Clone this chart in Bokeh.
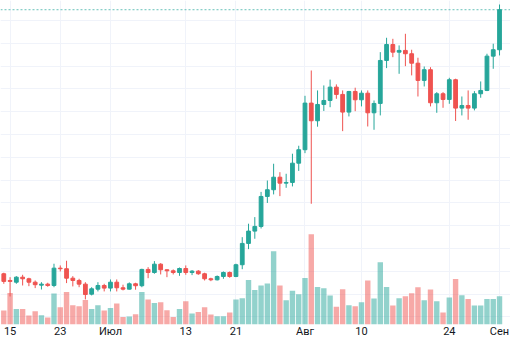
import pandas as pd
from bokeh.plotting import figure
from bokeh.models import ColumnDataSource, Range1d, FixedTicker, Span, Grid
from bokeh.embed import file_html
from bokeh.resources import INLINE

# ETH/USD daily candles, 14 Jun – 1 Sep 2020
dates = pd.date_range("2020-06-14", "2020-09-01", freq="D")

open_ = [237.8, 231.9, 230.4, 234.8, 233.4, 230.4, 227.8, 228.7, 227.5, 242.7,
         242.2, 233.9, 231.9, 228.7, 219.9, 224.3, 227.5, 225.2, 230.4, 225.5,
         224.3, 229.0, 227.3, 241.6, 238.9, 246.2, 241.3, 240.4, 238.9, 242.4,
         238.9, 240.1, 237.8, 233.4, 232.5, 235.4, 238.9, 235.4, 245.7, 264.4,
         275.2, 279.3, 305.6, 311.5, 322.5, 317.3, 317.9, 334.8, 346.6, 387.5,
         372.0, 386.3, 389.8, 401.5, 395.1, 379.6, 397.7, 390.4, 396.2, 379.0,
         387.2, 424.9, 438.9, 432.2, 433.7, 430.8, 422.5, 407.4, 416.8, 387.8,
         395.7, 390.7, 408.0, 383.1, 385.4, 383.1, 395.7, 398.6, 428.7, 434.3]
high = [238.7, 234.8, 235.7, 236.9, 234.3, 231.9, 230.4, 229.9, 246.6, 245.1,
        249.2, 235.7, 233.4, 230.4, 226.0, 230.4, 229.0, 232.8, 232.8, 228.2,
        230.2, 229.9, 242.2, 243.6, 248.9, 247.1, 241.6, 241.6, 243.3, 245.1,
        241.0, 241.0, 238.7, 234.3, 236.3, 239.8, 239.8, 246.6, 269.9, 281.7,
        287.5, 309.6, 319.6, 334.3, 326.9, 325.5, 343.1, 350.1, 393.9, 416.1,
        398.6, 403.0, 408.1, 403.9, 398.6, 398.2, 401.0, 398.6, 398.6, 389.8,
        432.2, 444.8, 443.9, 438.1, 448.3, 434.3, 427.3, 419.6, 419.0, 397.1,
        397.1, 409.7, 408.9, 393.3, 398.6, 398.0, 406.5, 430.8, 439.6, 474.0]
low = [229.0, 217.9, 229.0, 227.5, 226.9, 225.2, 224.0, 226.4, 226.0, 239.8,
       229.6, 226.7, 226.0, 215.3, 218.8, 222.3, 222.3, 222.3, 222.3, 223.2,
       224.0, 223.8, 226.0, 233.9, 237.8, 237.2, 234.8, 237.2, 236.0, 236.9,
       236.6, 236.9, 231.9, 231.3, 231.9, 233.4, 234.3, 234.8, 241.8, 259.4,
       268.5, 277.5, 299.9, 307.4, 305.9, 313.2, 314.4, 328.0, 343.6, 299.2,
       366.8, 380.6, 383.9, 391.3, 362.9, 375.8, 380.4, 384.6, 367.0, 364.1,
       376.7, 418.2, 427.8, 413.2, 419.9, 411.8, 393.3, 402.1, 384.6, 379.0,
       383.4, 386.9, 371.8, 376.7, 372.9, 381.1, 392.2, 398.0, 417.6, 429.3]
close = [231.1, 231.1, 234.8, 233.4, 230.4, 228.2, 228.7, 227.5, 242.7, 242.2,
         233.9, 231.9, 228.7, 219.6, 224.6, 227.5, 225.2, 230.4, 225.5, 224.3,
         229.0, 227.3, 241.6, 238.9, 246.2, 241.3, 240.4, 238.9, 242.4, 238.9,
         240.1, 237.8, 233.4, 232.5, 235.4, 238.9, 235.4, 245.7, 264.4, 275.2,
         279.3, 305.6, 311.5, 322.5, 317.3, 317.9, 334.8, 346.6, 387.5, 372.0,
         386.3, 389.8, 401.5, 395.1, 379.6, 397.7, 390.4, 396.2, 379.0, 387.2,
         424.9, 438.9, 432.2, 433.7, 430.8, 422.5, 407.4, 416.8, 387.8, 395.7,
         390.7, 408.0, 383.1, 385.4, 383.1, 395.7, 398.6, 428.7, 434.3, 469.4]
volume = [140, 316, 156, 156, 90, 133, 93, 70, 310, 173,
          326, 193, 183, 246, 156, 193, 140, 166, 210, 76,
          80, 103, 326, 250, 216, 223, 143, 76, 156, 233,
          110, 126, 173, 100, 83, 83, 120, 250, 263, 446,
          345, 390, 410, 733, 390, 243, 338, 303, 466, 903,
          376, 363, 291, 178, 353, 193, 183, 223, 440, 260,
          623, 376, 190, 263, 283, 313, 373, 243, 350, 233,
          120, 270, 456, 293, 256, 190, 190, 256, 256, 283]

tick_dates = ["2020-06-15", "2020-06-23", "2020-07-01", "2020-07-13", "2020-07-21",
              "2020-08-01", "2020-08-10", "2020-08-24", "2020-09-01"]
tick_labels = ["15", "23", "Июл", "13", "21", "Авг", "10", "24", "Сен"]
price_grid = list(range(200, 481, 20))

UP = "#26a69a"
DOWN = "#ef5350"
UP_V = "rgba(38,166,154,0.5)"
DOWN_V = "rgba(239,83,80,0.5)"
GRID = "#f0f3fa"

DAY = 86400000
x_ms = [int(d.value // 10**6) for d in dates]
tick_ms = [int(pd.Timestamp(t).value // 10**6) for t in tick_dates]
base = tick_ms[0]

up = [c >= o for o, c in zip(open_, close)]
src = ColumnDataSource(dict(
    x=x_ms, open=open_, high=high, low=low, close=close, volume=volume,
    btop=[max(o, c) for o, c in zip(open_, close)],
    bbot=[min(o, c) for o, c in zip(open_, close)],
    color=[UP if u else DOWN for u in up],
    vcolor=[UP_V if u else DOWN_V for u in up],
))

FRAME_H = 324
PX = 0.8772  # price per pixel
y_top = 477.5

p = figure(width=510, height=340, x_axis_type="datetime", y_axis_location=None,
           x_range=Range1d(base - 1.526 * DAY, base + 79.75 * DAY),
           y_range=Range1d(y_top - PX * FRAME_H, y_top),
           output_backend="svg", toolbar_location=None,
           min_border=0, min_border_left=0, min_border_right=0,
           min_border_top=0, min_border_bottom=0,
           outline_line_color=None, background_fill_color="white",
           border_fill_color="white")
p.extra_y_ranges = {"vol": Range1d(0, FRAME_H * 10)}

for g in p.ygrid:
    g.visible = False
p.add_layout(Grid(dimension=1, ticker=FixedTicker(ticks=price_grid),
                  grid_line_color=GRID, grid_line_width=1))

xt = FixedTicker(ticks=tick_ms)
p.xaxis.ticker = xt
p.xgrid.ticker = xt
p.xgrid.grid_line_color = GRID
p.xaxis.major_label_overrides = dict(zip(tick_ms, tick_labels))
p.xaxis.axis_line_color = None
p.xaxis.major_tick_line_color = None
p.xaxis.minor_tick_line_color = None
p.xaxis.major_tick_out = 0
p.xaxis.major_tick_in = 0
p.xaxis.major_label_standoff = 0
p.xaxis.major_label_text_font = "Roboto"
p.xaxis.major_label_text_font_size = "11px"
p.xaxis.major_label_text_color = "#131722"

p.vbar(x="x", top="volume", bottom=0, width=0.86 * DAY, fill_color="vcolor",
       line_color=None, y_range_name="vol", source=src)
p.segment(x0="x", y0="low", x1="x", y1="high", line_color="color",
          line_width=1, source=src)
p.vbar(x="x", top="btop", bottom="bbot", width=0.6 * DAY, fill_color="color",
       line_color="color", line_width=1, source=src)

p.add_layout(Span(location=close[-1], dimension="width", line_color=UP,
                  line_dash="2 2", line_width=1, line_alpha=0.7))

open("out.html", "w").write(file_html(p, INLINE))
